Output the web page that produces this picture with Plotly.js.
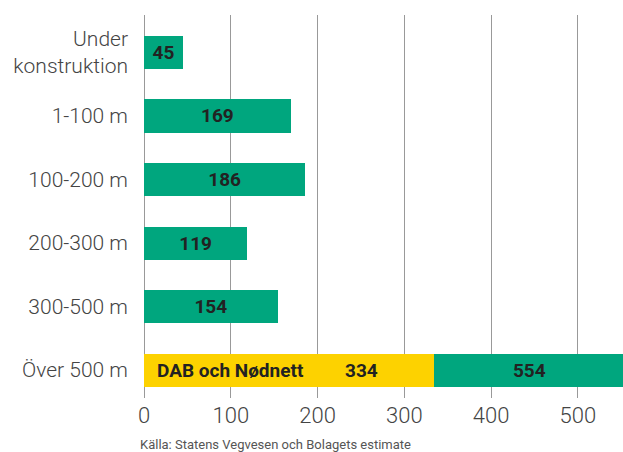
<!DOCTYPE html>
<html>
<head>
<meta charset="utf-8">
<script src="https://cdn.plot.ly/plotly-3.0.1.min.js"></script>
<style>html,body{margin:0;padding:0;background:#fff;}#chart{width:623px;height:452px;}</style>
</head>
<body>
<div id="chart"></div>
<script>
// Data
const categories = ["Under<br>konstruktion", "1-100 m", "100-200 m", "200-300 m", "300-500 m", "Över 500 m"];
const totals = [45, 169, 186, 119, 154, 554];
const dabCategory = "Över 500 m";
const dabLabel = "DAB och Nødnett";
const dabValue = 334;
const xTicks = [0, 100, 200, 300, 400, 500];
const source = "Källa: Statens Vegvesen och Bolagets estimate";

const green = "#00A67E";
const yellow = "#FDD200";
const labelFont = {family: "Roboto", size: 19, color: "#222", weight: "bold"};

// green part: for the DAB row only the remainder above the yellow base
const greenX = categories.map((c, i) => c === dabCategory ? totals[i] - dabValue : totals[i]);

const traces = [
  {
    type: "bar", orientation: "h",
    y: [dabCategory], x: [dabValue],
    marker: {color: yellow}, hoverinfo: "skip",
    showlegend: false
  },
  {
    type: "bar", orientation: "h",
    y: categories, x: greenX,
    text: totals.map(String),
    textposition: "inside", insidetextanchor: "middle",
    constraintext: "none",
    textfont: labelFont,
    marker: {color: green}, showlegend: false
  }
];

const layout = {
  width: 623, height: 452,
  margin: {l: 144, r: 0, t: 15, b: 54},
  paper_bgcolor: "#fff", plot_bgcolor: "#fff",
  barmode: "stack", bargap: 0.48,
  font: {family: "Roboto", color: "#444"},
  xaxis: {
    range: [0, 552], tickvals: xTicks, ticktext: xTicks.map(String),
    showgrid: true, gridcolor: "#999", gridwidth: 1,
    zeroline: true, zerolinecolor: "#999", zerolinewidth: 1,
    showline: false, ticks: "",
    tickfont: {family: "Roboto", size: 22, color: "#444", weight: 300},
    ticklabelstandoff: 2, fixedrange: true
  },
  yaxis: {
    type: "category", categoryorder: "array", categoryarray: categories,
    range: [5.44, -0.59],
    showgrid: false, zeroline: false, showline: false, ticks: "",
    tickfont: {family: "Roboto", size: 21, color: "#444", weight: 300},
    ticklabelstandoff: 15, fixedrange: true
  },
  annotations: [
    {x: 0, y: dabCategory, xref: "x", yref: "y", xanchor: "left", yanchor: "middle",
     xshift: 11, text: dabLabel, showarrow: false, font: labelFont},
    {x: dabValue, y: dabCategory, xref: "x", yref: "y", xanchor: "right", yanchor: "middle",
     xshift: -54, text: String(dabValue), showarrow: false, font: labelFont},
    {x: 0, y: 0, xref: "paper", yref: "paper", xanchor: "left", yanchor: "top",
     xshift: -6, yshift: -37, text: source, showarrow: false,
     font: {family: "Roboto", size: 13, color: "#555"}}
  ]
};

Plotly.newPlot("chart", traces, layout, {displayModeBar: false, staticPlot: true});
</script>
</body>
</html>
